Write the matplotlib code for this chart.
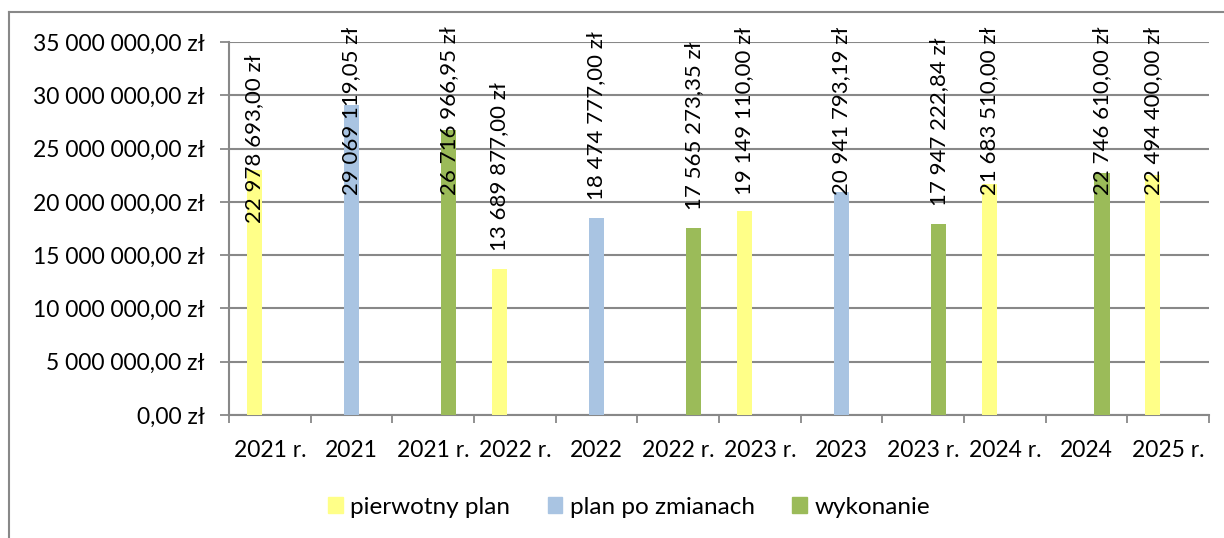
import numpy as np
import matplotlib
matplotlib.use("Agg")
import matplotlib.pyplot as plt
from matplotlib.ticker import FuncFormatter, MultipleLocator, FixedLocator
from matplotlib.lines import Line2D

plt.rcParams["font.family"] = ["Lato", "DejaVu Sans"]

categories = ["2021 r.", "2021", "2021 r.", "2022 r.", "2022", "2022 r.",
              "2023 r.", "2023", "2023 r.", "2024 r.", "2024", "2025 r."]
series_names = ["pierwotny plan", "plan po zmianach", "wykonanie"]
pierwotny = [22978693.00, 0, 0, 13689877.00, 0, 0, 19149110.00, 0, 0, 21683510.00, 0, 22494400.00]
po_zmianach = [0, 29069119.05, 0, 0, 18474777.00, 0, 0, 20941793.19, 0, 0, 0, 0]
wykonanie = [0, 0, 26716966.95, 0, 0, 17565273.35, 0, 0, 17947222.84, 0, 22746610.00, 0]
colors = ["#FFFF88", "#A9C4E2", "#9BBB59"]

# label placement (data units): gap above bar, highest allowed bottom, manual nudges
LABEL_PAD = 1.69e6
LABEL_CAP = 20.64e6
label_nudge = [-2.62e6] + [0] * 11

FS = 16.5


def zl(v, _=None):
    return f"{v:,.2f}".replace(",", " ").replace(".", ",") + " zł"


fig = plt.figure(figsize=(12.24, 5.38), dpi=100)
ax = fig.add_axes([229 / 1224, 1 - 415 / 538, 980 / 1224, 373 / 538])

x = np.arange(len(categories))
w = 0.19
for i, (vals, c) in enumerate(zip([pierwotny, po_zmianach, wykonanie], colors)):
    vals = np.array(vals, float)
    ax.bar(x + (i - 1) * w, vals, width=w, color=c, zorder=3, label=series_names[i])
    for xi, v in zip(x, vals):
        if v <= 0:
            continue
        yb = min(v + LABEL_PAD, LABEL_CAP) + label_nudge[xi]
        ax.text(xi + (i - 1) * w, yb, zl(v), rotation=90, ha="center", va="bottom",
                fontsize=16, clip_on=False, zorder=4)

ax.set_xlim(-0.5, len(categories) - 0.5)
ax.set_ylim(0, 35e6)
ax.yaxis.set_major_locator(MultipleLocator(5e6))
ax.yaxis.set_major_formatter(FuncFormatter(zl))
ax.set_xticks(x)
ax.set_xticklabels(categories)
ax.xaxis.set_minor_locator(FixedLocator(np.arange(-0.5, len(categories), 1)))
ax.tick_params(axis="x", which="major", length=0, pad=18, labelsize=FS)
ax.tick_params(axis="x", which="minor", length=6, width=1.3, color="#888888", direction="out")
ax.tick_params(axis="y", length=6.5, width=1.3, color="#888888", labelsize=FS, pad=11)
ax.grid(axis="y", color="#888888", lw=1.5, zorder=0)
for s in ["top", "right"]:
    ax.spines[s].set_visible(False)
for s in ["left", "bottom"]:
    ax.spines[s].set_color("#888888")
    ax.spines[s].set_linewidth(1.5)

handles = [plt.Rectangle((0, 0), 1, 1, color=c) for c in colors]
fig.legend(handles, series_names, loc="center", bbox_to_anchor=(629 / 1224, 1 - 507 / 538),
           ncol=3, frameon=False, fontsize=17.5, handlelength=0.6, handleheight=0.6,
           handletextpad=0.3, columnspacing=1.55)

# chart area border (cut off at right and bottom)
fig.add_artist(Line2D([9 / 1224, 9 / 1224], [0, 1 - 12 / 538], color="#888888", lw=1.5))
fig.add_artist(Line2D([9 / 1224, 1], [1 - 12 / 538, 1 - 12 / 538], color="#888888", lw=1.5))

fig.savefig("out.png", dpi=100)
